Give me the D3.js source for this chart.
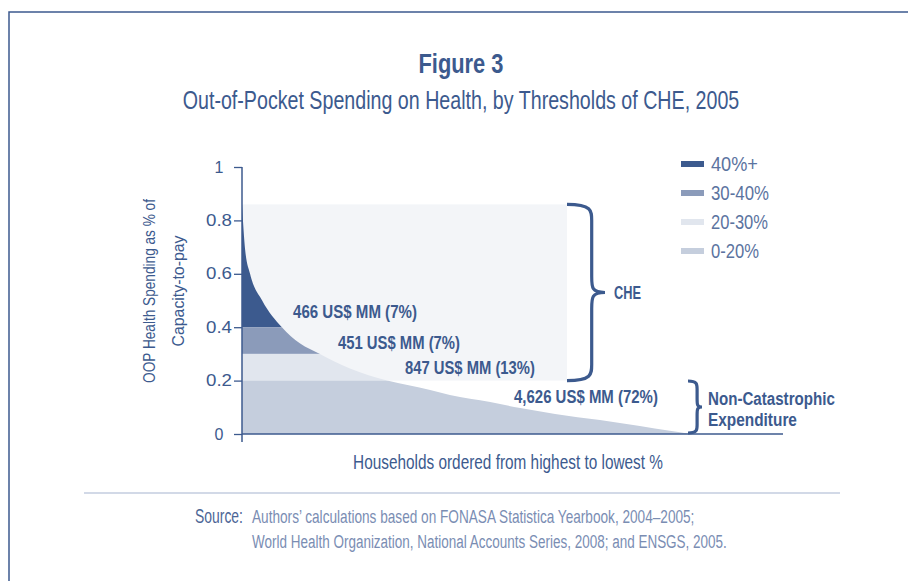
<!DOCTYPE html>
<html>
<head>
<meta charset="utf-8">
<script src="https://cdn.jsdelivr.net/npm/d3@7"></script>
<style>
  body { margin: 0; background: #fff; }
  svg text { font-family: "Liberation Sans", Arial, sans-serif; }
</style>
</head>
<body>
<div id="chart"></div>
<script>
// households ordered (%), OOP spending as share of capacity-to-pay
const households = [0, 0.7, 1.8, 4.5, 8.9, 12.9, 17.4, 24.1, 32.4, 42, 46.4, 55.4, 62.1, 69.9, 79.9, 88.8, 95.5, 100];
const oopShare = [0.86, 0.69, 0.6, 0.5, 0.4, 0.34, 0.3, 0.245, 0.2, 0.165, 0.146, 0.12, 0.097, 0.075, 0.052, 0.03, 0.012, 0];

const bandNames = ['40%+', '30-40%', '20-30%', '0-20%'];
const bandLow = [0.4, 0.3, 0.2, 0];
const bandHigh = [1, 0.4, 0.3, 0.2];
const bandColors = ['#3c5a8e', '#8b9bba', '#e1e6ee', '#c5cedd'];

const amountLabels = ['466 US$ MM (7%)', '451 US$ MM (7%)', '847 US$ MM (13%)', '4,626 US$ MM (72%)'];
const yTicks = [0, 0.2, 0.4, 0.6, 0.8, 1];

const sourceLines = [
  'Authors\u2019 calculations based on FONASA Statistica Yearbook, 2004\u20132005;',
  'World Health Organization, National Accounts Series, 2008; and ENSGS, 2005.'
];

const W = 908, H = 581;
const blue = '#3c5a8e';

const svg = d3.select('#chart').append('svg')
  .attr('width', W).attr('height', H);

// text squeezed horizontally to the condensed width of the original typeface
const label = (str, px, py, size, width, o = {}) => {
  const t = svg.append('text')
    .attr('font-size', size)
    .attr('font-weight', o.weight || 'normal')
    .attr('fill', o.color || blue)
    .attr('text-anchor', o.anchor || 'start')
    .attr('dy', o.dy || 0)
    .text(str);
  const k = width / t.node().getComputedTextLength();
  t.attr('transform', `translate(${px},${py}) rotate(${o.rotate || 0}) scale(${k},1)`);
  return t;
};

// frame
svg.append('path')
  .attr('d', `M9,${H} V12 H${W}`)
  .attr('fill', 'none').attr('stroke', blue).attr('stroke-width', 1.5);

label('Figure 3', 461, 73, 28, 85, { weight: 'bold', anchor: 'middle' });
label('Out-of-Pocket Spending on Health, by Thresholds of CHE, 2005', 461, 109, 26, 557, { anchor: 'middle' });

const x = d3.scaleLinear().domain([0, 100]).range([242, 690]);
const y = d3.scaleLinear().domain([0, 1]).range([434, 167]);

const pts = households.map((h, i) => [h, oopShare[i]]);

// CHE background box
svg.append('rect')
  .attr('x', x(0)).attr('y', y(oopShare[0]))
  .attr('width', 567 - x(0)).attr('height', y(0.2) - y(oopShare[0]))
  .attr('fill', '#f3f5f8');

const area = d3.area()
  .x((d) => x(d[0]))
  .y0(y(0))
  .y1((d) => y(d[1]))
  .curve(d3.curveMonotoneX);

svg.append('clipPath').attr('id', 'under')
  .append('path').attr('d', area(pts));

svg.append('g').attr('clip-path', 'url(#under)')
  .selectAll('rect')
  .data(bandNames)
  .enter()
  .append('rect')
  .attr('x', x(0))
  .attr('width', x(100) - x(0))
  .attr('y', (d, i) => y(bandHigh[i]))
  .attr('height', (d, i) => y(bandLow[i]) - y(bandHigh[i]))
  .attr('fill', (d, i) => bandColors[i]);

// axes
const yAxis = svg.append('g')
  .attr('transform', `translate(${x(0)},0)`)
  .call(d3.axisLeft(y).tickValues(yTicks).tickSize(8).tickPadding(0)
    .tickFormat((d) => (d === 0 || d === 1 ? d : d.toFixed(1))));
yAxis.select('.domain').remove();
yAxis.selectAll('line').attr('stroke', blue).attr('stroke-width', 1.3);
yAxis.selectAll('text')
  .attr('fill', blue).attr('font-size', 16)
  .attr('text-anchor', 'middle').attr('x', 0)
  .style('font-family', '"Liberation Sans", Arial, sans-serif')
  .each(function (d) {
    const k = d === 0 || d === 1 ? 1 : 26 / this.getComputedTextLength();
    d3.select(this).attr('transform', `translate(-23,0) scale(${k},1)`);
  });

svg.append('line').attr('x1', x(0)).attr('x2', x(0)).attr('y1', y(1)).attr('y2', 442)
  .attr('stroke', blue).attr('stroke-width', 1.5);
svg.append('line').attr('x1', x(0)).attr('x2', 783).attr('y1', y(0)).attr('y2', y(0))
  .attr('stroke', blue).attr('stroke-width', 1.5);

// y label (two lines)
label('OOP Health Spending as % of', 155, 291, 17, 184, { anchor: 'middle', rotate: -90 });
label('Capacity-to-pay', 184, 291, 17, 111, { anchor: 'middle', rotate: -90 });

label('Households ordered from highest to lowest  %', 508, 469, 20, 310, { anchor: 'middle' });

// amount labels
const labelPos = [[293, 312], [338, 343], [405, 368], [514, 397]];
const labelWidth = [124, 122, 130, 144];
amountLabels.forEach((d, i) =>
  label(d, labelPos[i][0], labelPos[i][1], 18, labelWidth[i], { weight: 'bold', dy: '0.35em' }));

// braces
function brace(x0, y0, y1, w, r) {
  const m = (y0 + y1) / 2;
  const h = w * 0.65;
  return `M${x0},${y0} C${x0 + h},${y0} ${x0 + h},${y0 + r * 0.4} ${x0 + h},${y0 + r}
    L${x0 + h},${m - r} C${x0 + h},${m - r * 0.3} ${x0 + h},${m} ${x0 + w},${m}
    C${x0 + h},${m} ${x0 + h},${m + r * 0.3} ${x0 + h},${m + r}
    L${x0 + h},${y1 - r} C${x0 + h},${y1 - r * 0.4} ${x0 + h},${y1} ${x0},${y1}`;
}
svg.append('path').attr('d', brace(567, y(oopShare[0]), y(0.2), 38, 16))
  .attr('fill', 'none').attr('stroke', blue).attr('stroke-width', 3.2);
label('CHE', 614, 293, 18, 27, { weight: 'bold', dy: '0.35em' });

svg.append('path').attr('d', brace(688, 381, 433, 14, 8))
  .attr('fill', 'none').attr('stroke', blue).attr('stroke-width', 3.2);
label('Non-Catastrophic', 708, 398, 19, 127, { weight: 'bold', dy: '0.35em' });
label('Expenditure', 708, 419, 19, 89, { weight: 'bold', dy: '0.35em' });

// legend
const legendWidth = [47, 58, 57, 48];
svg.selectAll('.leg')
  .data(bandNames)
  .enter()
  .append('rect')
  .attr('x', 681)
  .attr('y', (d, i) => 161 + i * 29)
  .attr('width', 23).attr('height', 6)
  .attr('fill', (d, i) => bandColors[i]);
bandNames.forEach((d, i) =>
  label(d, 711, 164 + i * 29, 20, legendWidth[i], { color: '#5b73a0', dy: '0.36em' }));

// source
svg.append('line').attr('x1', 84).attr('x2', 840).attr('y1', 493).attr('y2', 493)
  .attr('stroke', '#a6b4cf').attr('stroke-width', 1.2);
label('Source:', 195, 523, 20, 48, { color: '#4d6696' });
const srcWidth = [443, 475];
sourceLines.forEach((d, i) =>
  label(d, 252, 523 + i * 25, 19, srcWidth[i], { color: '#7a8db3' }));
</script>
</body>
</html>
